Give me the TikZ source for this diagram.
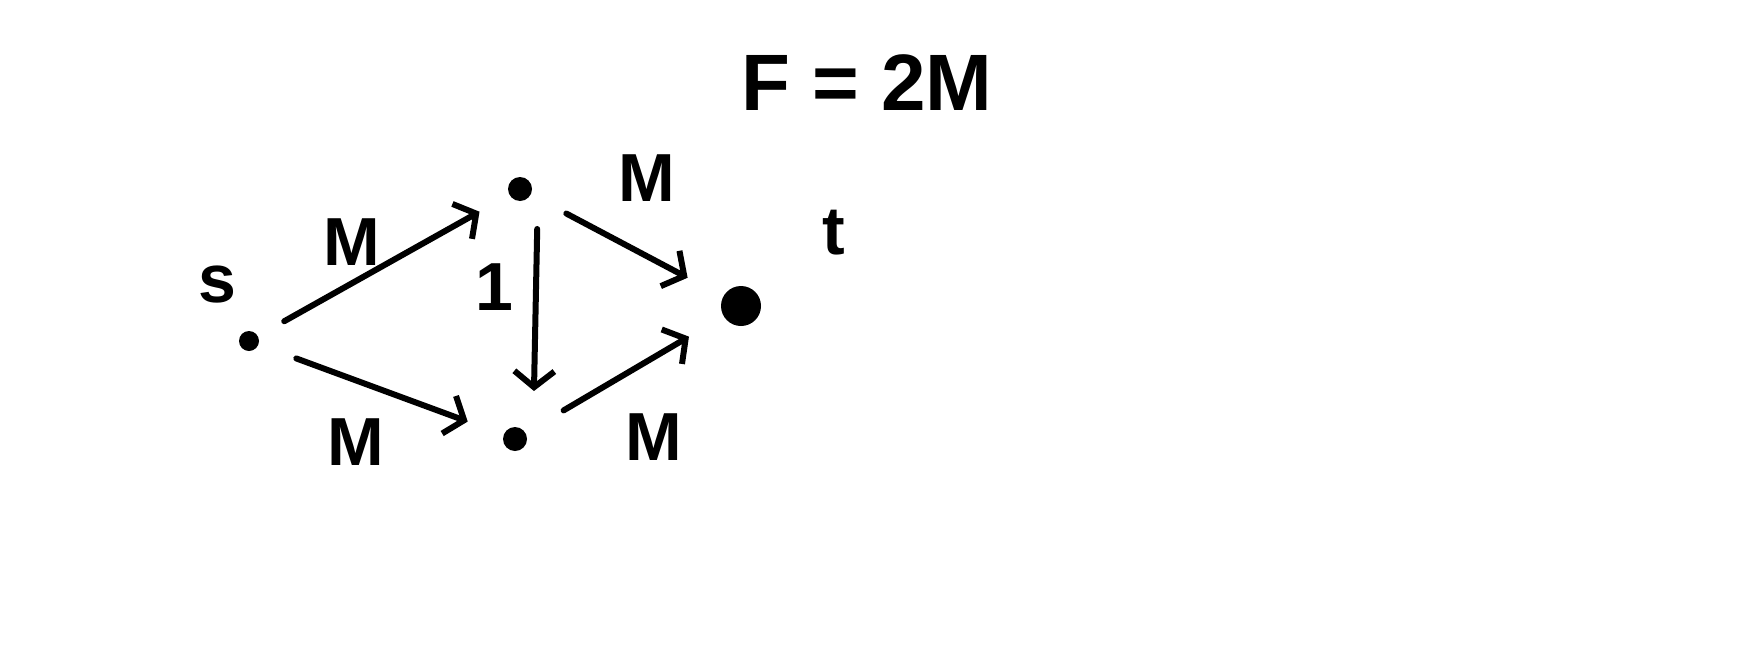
\documentclass[tikz,border=0pt]{standalone}
\usepackage{fontspec}
\setmainfont{Liberation Sans}
\usetikzlibrary{arrows.meta}
\begin{document}
\begin{tikzpicture}[x=0.5pt,y=-0.5pt,
  dot/.style={circle,fill=black,inner sep=0pt,minimum size=#1},
  edge/.style={line width=3pt,line cap=round,line join=round,-{Straight Barb[length=8pt,width=20pt,line width=3pt]}},
  lbl/.style={font=\fontsize{34}{40}\selectfont\bfseries,inner sep=0pt},
  big/.style={font=\fontsize{40}{46}\selectfont\bfseries,inner sep=0pt}]
\useasboundingbox (0,0) rectangle (1743,648);
\node[dot=10pt] (s) at (249,341) {};
\node[dot=12pt] (u) at (520,189) {};
\node[dot=12pt] (v) at (515,439) {};
\node[dot=20pt] (t) at (741,306) {};
\node[lbl] (ls) at (217,285) {s};
\node[lbl] (lt) at (834,233) {t};
\node[big] (f) at (867,83) {F = 2M};
\node[lbl] (m1) at (352,242) {M};
\node[lbl] (m2) at (356,442) {M};
\node[lbl] (m3) at (647,178) {M};
\node[lbl] (m4) at (654,437) {M};
\node[lbl] (one) at (494,287) {1};
\draw[edge,shorten <=15pt,shorten >=17pt] (s) -- (u);
\draw[edge,shorten <=20pt,shorten >=19pt] (s) -- (v);
\draw[edge,shorten <=20pt,shorten >=24pt] ([xshift=9pt]u.center) -- ([xshift=9pt]v.center);
\draw[edge,shorten <=20pt,shorten >=20pt] (u) -- (t);
\draw[edge,shorten <=22pt,shorten >=20pt] (v) -- (t);
\end{tikzpicture}
\end{document}
